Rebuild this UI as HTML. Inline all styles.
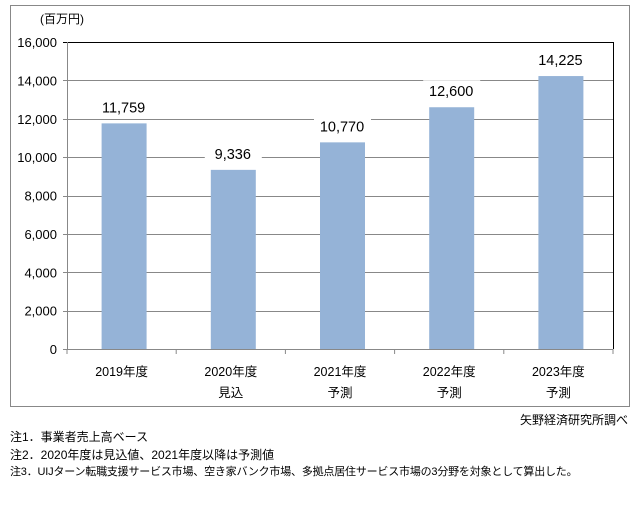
<!DOCTYPE html>
<html><head><meta charset="utf-8"><style>
body{margin:0;background:#fff;width:640px;height:510px;overflow:hidden;font-family:"Liberation Sans","Noto Sans CJK JP",sans-serif;}
.n{position:absolute;left:10px;font-size:12px;color:#000;white-space:nowrap}
</style></head><body>
<svg width="640" height="510" style="position:absolute;left:0;top:0" font-family="Liberation Sans, Noto Sans CJK JP, sans-serif">
<rect x="10.5" y="5.5" width="619" height="401" fill="none" stroke="#888"/>
<text x="40" y="23" font-size="12">(百万円)</text>
<g id="chart"></g>
</svg>
<div class="n" style="left:auto;right:12px;top:411px">矢野経済研究所調べ</div>
<div class="n" style="top:428px">注1．事業者売上高ベース</div>
<div class="n" style="top:446px">注2．2020年度は見込値、2021年度以降は予測値</div>
<div class="n" style="top:463px;font-size:11px;letter-spacing:-0.2px">注3．UIJターン転職支援サービス市場、空き家バンク市場、多拠点居住サービス市場の3分野を対象として算出した。</div>
<script>
const categories=["2019年度","2020年度","2021年度","2022年度","2023年度"];
const subLabels=["","見込","予測","予測","予測"];
const values=[11759,9336,10770,12600,14225];
const valueLabels=["11,759","9,336","10,770","12,600","14,225"];
const ticks=[0,2000,4000,6000,8000,10000,12000,14000,16000];
const NS="http://www.w3.org/2000/svg";
const g=document.getElementById('chart');
const X0=67,X1=613,Y0=349,Y1=42,MAX=16000;
const bw=(X1-X0)/categories.length;
const y=v=>Y0-(v/MAX)*(Y0-Y1);
const x=i=>X0+bw*(i+0.5)+2;
function mk(t,a){const e=document.createElementNS(NS,t);for(const k in a)e.setAttribute(k,a[k]);g.appendChild(e);return e;}
ticks.forEach(t=>{
 const l=mk('line',{x1:X0-4,x2:X1,y1:Math.round(y(t))+0.5,y2:Math.round(y(t))+0.5,stroke:t===MAX?'#000':'#888'});
 
 
 const tx=mk('text',{x:X0-10,y:y(t)+5,'text-anchor':'end','font-size':13});
 tx.textContent=t.toLocaleString('en-US');
 
 
});
const ax=mk('line',{x1:X0+0.5,x2:X0+0.5,y1:Y1,y2:Y0,stroke:'#888'});


const rb=mk('line',{x1:X1+0.5,x2:X1+0.5,y1:Y1,y2:Y0,stroke:'#000'});


for(let i=0;i<=categories.length;i++){
 const tk=mk('line',{x1:X0+bw*i,x2:X0+bw*i,y1:Y0,y2:Y0+5,stroke:'#888'});
 
 
}
values.forEach((v,i)=>{
 const r=mk('rect',{x:x(i)-22,y:y(v),width:45,height:Y0-y(v),fill:'#95b3d7'});
 
 
 const bg=mk('rect',{x:x(i)-28,y:y(v)-27,width:57,height:18,fill:'#fff'});
 
 
 const t=mk('text',{x:x(i),y:y(v)-11,'text-anchor':'middle','font-size':14.5});
 t.textContent=valueLabels[i];
 
 
 const c=mk('text',{x:x(i)-2,y:376,'text-anchor':'middle','font-size':12.5});
 c.textContent=categories[i];
 
 
 if(subLabels[i]){const s=mk('text',{x:x(i)-2,y:397,'text-anchor':'middle','font-size':12.5});
 s.textContent=subLabels[i];
 
 }
});
</script>
</body></html>
